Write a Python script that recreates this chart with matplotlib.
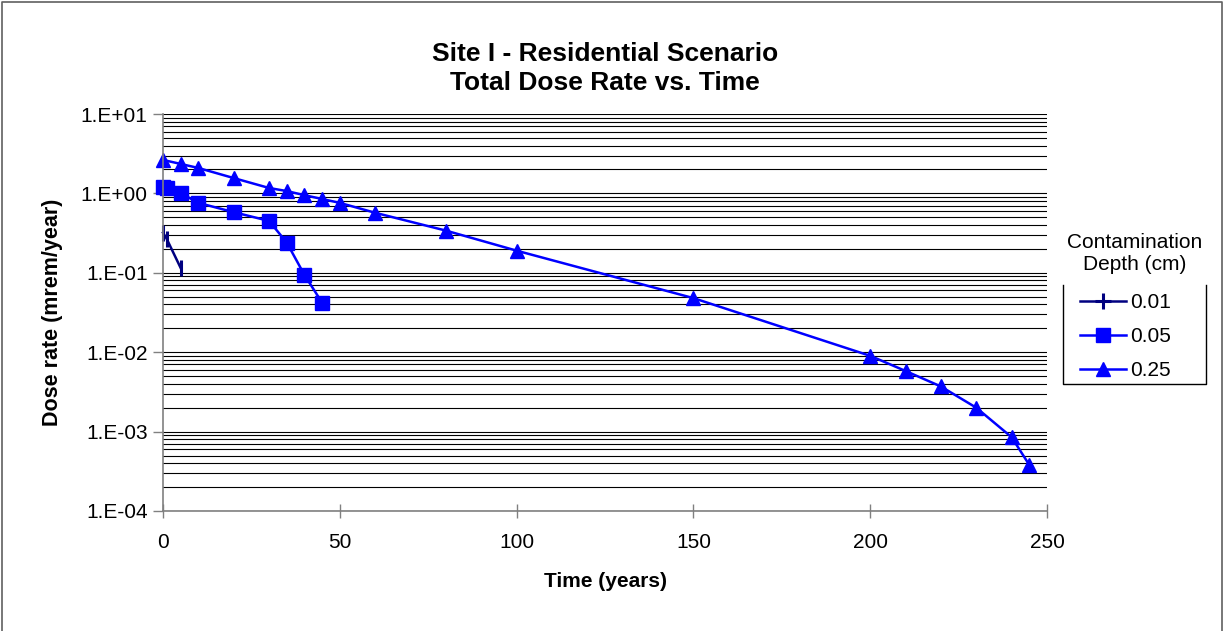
import matplotlib
matplotlib.use('Agg')
import matplotlib.pyplot as plt
from matplotlib.lines import Line2D
from matplotlib.ticker import LogLocator, NullFormatter

plt.rcParams['font.family'] = ['Liberation Sans', 'DejaVu Sans']

# Data
years_001 = [0, 1, 5]
dose_001 = [0.32, 0.27, 0.115]

years_005 = [0, 1, 5, 10, 20, 30, 35, 40, 45]
dose_005 = [1.20, 1.17, 1.01, 0.76, 0.58, 0.45, 0.24, 0.094, 0.042]

years_025 = [0, 5, 10, 20, 30, 35, 40, 45, 50, 60, 80, 100, 150,
             200, 210, 220, 230, 240, 245]
dose_025 = [2.64, 2.35, 2.09, 1.56, 1.17, 1.07, 0.95, 0.85, 0.76, 0.57,
            0.34, 0.19, 0.048, 0.0090, 0.0058, 0.0037, 0.0020, 0.00085, 0.00038]

series_labels = ['0.01', '0.05', '0.25']
y_ticks = [1e-4, 1e-3, 1e-2, 1e-1, 1e0, 1e1]
y_tick_labels = ['1.E-04', '1.E-03', '1.E-02', '1.E-01', '1.E+00', '1.E+01']
x_ticks = [0, 50, 100, 150, 200, 250]

navy = '#000080'
blue = '#0000FF'

fig = plt.figure(figsize=(12.25, 6.31), dpi=100)
ax = fig.add_axes([163 / 1225, 1 - 511 / 631, (1047 - 163) / 1225, (511 - 114) / 631])

# the 0.01 series shows only vertical ticks on the chart, a "+" in the legend
ax.plot(years_001, dose_001, color=navy, lw=1.8, marker='|', ms=12, mew=2.2,
        clip_on=False)
ax.plot(years_005, dose_005, color=blue, lw=1.8, marker='s', ms=10, clip_on=False)
ax.plot(years_025, dose_025, color=blue, lw=1.8, marker='^', ms=10, clip_on=False)

ax.set_yscale('log')
ax.set_ylim(1e-4, 1e1)
ax.set_xlim(0, 250)
ax.set_yticks(y_ticks)
ax.set_yticklabels(y_tick_labels)
ax.yaxis.set_minor_locator(LogLocator(base=10, subs=range(2, 10)))
ax.yaxis.set_minor_formatter(NullFormatter())
ax.set_xticks(x_ticks)

ax.grid(True, which='both', axis='y', color='black', lw=0.8)
ax.set_axisbelow(True)
for s in ['top', 'right']:
    ax.spines[s].set_visible(False)
for s in ['left', 'bottom']:
    ax.spines[s].set_color('#808080')
    ax.spines[s].set_linewidth(1.2)

ax.tick_params(axis='y', which='major', direction='out', length=7, width=1,
               color='#808080', labelsize=15, pad=4)
ax.tick_params(axis='y', which='minor', length=0)
ax.tick_params(axis='x', direction='inout', length=10, width=1,
               color='#808080', labelsize=15, pad=11)

ax.set_xlabel('Time (years)', fontsize=15, fontweight='bold', labelpad=14)
ax.set_ylabel('Dose rate (mrem/year)', fontsize=15.5, fontweight='bold', labelpad=13)
ax.set_title('Site I - Residential Scenario\nTotal Dose Rate vs. Time',
             fontsize=19, fontweight='bold', pad=17, linespacing=1.3)

# legend: title sits above an open-topped box
handles = [Line2D([], [], color=navy, lw=1.8, marker='+', ms=12, mew=2.2),
           Line2D([], [], color=blue, lw=1.8, marker='s', ms=10),
           Line2D([], [], color=blue, lw=1.8, marker='^', ms=10)]
leg = ax.legend(handles, series_labels, loc='upper left',
                bbox_to_anchor=(1072 / 1225, 1 - 285 / 631),
                bbox_transform=fig.transFigure, frameon=False, fontsize=15,
                handlelength=2.2, handletextpad=0.2, labelspacing=0.72,
                borderaxespad=0)
fig.text(1135 / 1225, 1 - 242 / 631, 'Contamination', fontsize=15,
         ha='center', va='center')
fig.text(1135 / 1225, 1 - 264 / 631, 'Depth (cm)', fontsize=15,
         ha='center', va='center')
bx0, bx1 = 1063 / 1225, 1206 / 1225
by0, by1 = 1 - 384 / 631, 1 - 285 / 631
fig.add_artist(Line2D([bx0, bx0, bx1, bx1], [by1, by0, by0, by1],
                      transform=fig.transFigure, color='black', lw=1))

# outer chart border
fig.add_artist(Line2D([2 / 1225, 2 / 1225, 1222 / 1225, 1222 / 1225],
                      [-0.01, 1 - 1.5 / 631, 1 - 1.5 / 631, -0.01],
                      transform=fig.transFigure, color='#606060', lw=1.2))

fig.savefig('out.png', dpi=100)
